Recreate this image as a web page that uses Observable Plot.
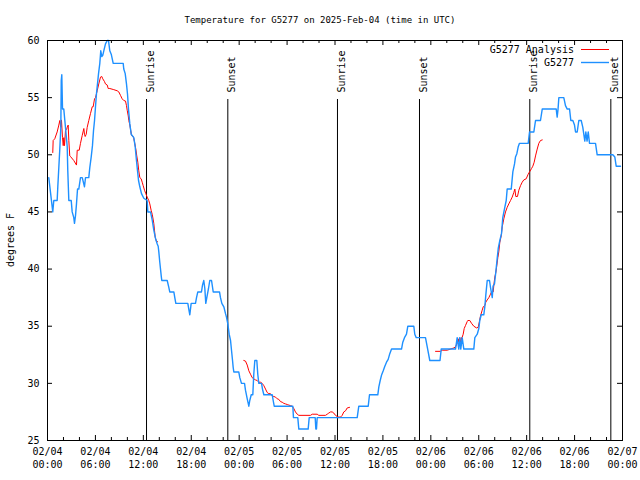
<!DOCTYPE html>
<html><head><meta charset="utf-8">
<script src="https://cdn.jsdelivr.net/npm/d3@7"></script>
<script src="https://cdn.jsdelivr.net/npm/@observablehq/plot@0.6"></script>
<style>body{margin:0;background:#fff}</style>
</head><body><div id="chart"></div>
<script>
// Hours since 2025-02-04 00:00 UTC, temperature in degrees F
const blueSeries = [[0.16,48],[0.66,45],[0.79,46],[1.21,46],[1.29,47.2],[1.54,50.5],[1.67,52.4],[1.72,56.5],[1.79,57],[1.88,54],[2.04,54],[2.17,53],[2.29,52.1],[2.47,50.7],[2.54,48.6],[2.67,46],[2.97,46],[3.09,45],[3.29,44.5],[3.38,44],[3.51,44.7],[3.63,45.7],[3.76,47],[3.92,47],[4.13,48],[4.35,48],[4.63,47.2],[4.76,48],[5.17,48],[5.30,48.9],[5.47,49.8],[5.63,50.8],[5.76,52.1],[5.89,53],[6.01,54.2],[6.14,55.4],[6.26,56.2],[6.39,57.1],[6.55,58],[6.67,59.1],[6.80,58.6],[6.92,58.7],[7.05,59.1],[7.26,59.7],[7.48,60],[7.64,60],[7.80,59.1],[7.98,58.8],[8.23,58],[9.48,58],[9.55,57.5],[9.73,57.1],[9.89,56.2],[10.02,55.3],[10.14,54],[10.31,52.7],[10.48,51.8],[10.81,51.5],[10.98,50.7],[11.14,49.5],[11.27,48.6],[11.40,47.75],[11.56,47.2],[11.77,46.6],[12.06,46.2],[12.48,46],[12.56,45],[12.90,45],[13.11,44.3],[13.31,43.4],[13.52,42.7],[13.74,42.2],[13.86,42],[13.94,41.5],[14.06,40.6],[14.24,39.4],[14.31,39],[14.99,39],[15.19,38.4],[15.31,38],[15.82,38],[15.94,37.5],[16.07,37],[17.57,37],[17.69,36.5],[17.82,36],[17.99,37],[18.53,37],[18.66,37.5],[18.82,38],[19.28,38],[19.41,38.6],[19.57,39],[19.70,38.3],[19.82,37],[20.00,37.7],[20.16,38.3],[20.32,39],[20.54,39],[20.75,38],[21.54,38],[21.66,37.5],[21.83,37],[22.08,36.7],[22.29,36.1],[22.41,35.8],[22.58,35.2],[22.75,34.3],[22.92,33.75],[23.04,32.9],[23.17,32],[23.25,31.4],[23.33,31],[23.95,31],[24.08,30.5],[24.29,30],[24.67,30],[24.79,29.4],[25.01,28.65],[25.21,28],[25.33,28.5],[25.51,29],[25.71,29],[25.83,30.8],[25.96,32],[26.21,32],[26.33,30.8],[26.46,30],[26.80,30],[26.92,29.5],[27.09,29],[28.14,29],[28.26,28.5],[28.39,28],[30.72,28],[30.80,27],[31.34,27],[31.47,26],[32.64,26],[32.77,27],[33.52,27],[33.60,26],[33.68,26],[33.77,27],[38.78,27],[38.98,28],[40.16,28],[40.32,29],[41.36,29],[41.49,29.7],[41.66,30.25],[41.82,30.7],[42.04,31.1],[42.24,31.5],[42.45,31.85],[42.66,32.1],[42.86,32.6],[43.08,33],[44.33,33],[44.49,33.6],[44.70,34],[44.95,34.3],[45.12,35],[45.87,35],[45.99,34.3],[46.17,34],[47.33,34],[47.55,33.2],[47.87,32],[49.15,32],[49.30,33],[51.09,33],[51.30,34],[51.50,33],[51.63,34],[51.75,33],[51.93,34],[52.13,33],[53.38,33],[53.51,34],[53.81,34.3],[54.01,34.8],[54.13,35.5],[54.31,36],[54.63,36],[54.76,36.7],[54.88,37.7],[55.06,39],[55.35,39],[55.47,38.4],[55.69,37.5],[55.79,38.5],[55.97,38.7],[56.10,39.5],[56.29,40.8],[56.44,41.8],[56.64,42.5],[56.85,43.1],[57.01,44.5],[57.26,45.4],[57.44,46],[57.56,47],[58.07,47],[58.27,48.5],[58.48,49.2],[58.60,49.8],[58.77,50.1],[58.94,50.7],[59.10,51],[60.19,51],[60.36,52],[60.90,52],[61.11,53],[61.73,53],[61.95,54],[63.70,54],[63.82,53.3],[63.93,54],[64.03,55],[64.65,55],[64.86,54.3],[65.08,54],[65.37,54],[65.53,53],[65.78,53],[65.99,52.6],[66.12,52],[66.33,52],[66.53,53],[66.83,53],[67.03,52.4],[67.28,51.2],[67.41,52],[67.56,51.2],[67.71,52],[67.87,51],[68.62,51],[68.83,50],[70.79,50],[71.04,49.8],[71.21,49],[71.75,49]];

const analysisPart1 = [[0.66,50.2],[0.71,51.25],[0.91,51.4],[1.21,52],[1.42,52.6],[1.54,53],[1.67,52.4],[1.75,53.05],[1.88,51.5],[1.97,50.8],[2.04,51.5],[2.13,50.8],[2.25,52.1],[2.38,52.2],[2.47,52.4],[2.59,52.6],[2.67,51.25],[2.79,49.9],[2.88,49.85],[3.29,49.5],[3.63,49.1],[3.72,50.4],[3.97,50.4],[4.13,51],[4.35,51.7],[4.55,52.3],[4.63,51.8],[4.72,51.6],[4.85,51.8],[4.97,52.4],[5.17,53],[5.38,53.6],[5.60,54.2],[5.72,54.2],[5.89,54.9],[6.01,55],[6.22,55.6],[6.42,56.2],[6.64,56.8],[6.80,56.85],[6.92,56.65],[7.14,56.4],[7.26,56.2],[7.48,56.1],[7.60,55.8],[7.80,55.8],[8.30,55.7],[8.73,55.6],[8.93,55.5],[9.14,55.2],[9.35,54.9],[9.55,54.75],[9.77,54.7],[9.89,54.3],[9.98,53.9],[10.11,53.4],[10.18,53],[10.31,52.6],[10.43,52.1],[10.52,51.7],[10.73,51.6],[10.81,51.4],[10.93,51],[11.06,50.5],[11.18,49.9],[11.31,49.35],[11.43,48.6],[11.56,48],[11.73,47.9],[11.86,47.6],[11.98,47.3],[12.15,46.9],[12.31,46.6],[12.48,46.3],[12.68,46],[12.81,45.7],[12.99,45.1],[13.11,44.8],[13.24,44.3],[13.31,44],[13.40,43.4],[13.48,42.8],[13.65,42.4],[13.77,42.4]];
const analysisPart2 = [[24.58,32],[24.79,31.95],[25.01,31.6],[25.21,31.1],[25.42,30.8],[25.63,30.5],[25.83,30.4],[26.05,30.3],[26.26,30.25],[26.46,30.1],[26.67,30.1],[26.88,30],[27.09,29.8],[27.30,29.5],[27.51,29.2],[27.71,29.1],[27.92,29.1],[28.14,28.9],[28.34,28.85],[28.55,28.8],[28.76,28.65],[28.96,28.6],[29.18,28.4],[29.39,28.35],[29.59,28.25],[29.80,28.2],[30.02,28.15],[30.22,28.1],[30.43,28.05],[30.64,28],[30.84,27.8],[31.05,27.5],[31.27,27.3],[31.47,27.2],[32.93,27.2],[33.15,27.3],[33.77,27.3],[33.97,27.2],[34.81,27.2],[35.02,27.3],[35.22,27.4],[35.44,27.5],[35.65,27.5],[35.85,27.4],[36.06,27.2],[36.28,27.1],[36.48,27.05],[36.69,27.05],[36.90,27.2],[37.10,27.5],[37.32,27.6],[37.53,27.85],[37.82,27.9]];
const analysisPart3 = [[48.59,32.8],[49.21,32.8],[49.42,32.9],[50.05,32.9],[50.46,33],[50.88,33.1],[51.09,33.2],[51.30,33.5],[51.43,33.9],[51.50,33.6],[51.63,34],[51.75,33.5],[51.84,34],[51.93,34.05],[52.05,34.3],[52.18,34.8],[52.34,35.06],[52.55,35.4],[52.63,35.5],[52.88,35.5],[53.09,35.26],[53.38,35],[53.72,34.85],[53.93,34.9],[54.05,35.3],[54.22,35.9],[54.43,36.4],[54.56,36.7],[54.76,36.8],[54.88,37.1],[55.06,37.3],[55.26,37.5],[55.47,37.8],[55.60,38],[55.81,38],[55.89,38.6],[56.01,39.3],[56.14,39.7],[56.26,40.3],[56.39,41],[56.51,41.5],[56.64,42.35],[56.81,42.9],[56.94,43.7],[57.06,44.1],[57.14,44.4],[57.35,45],[57.56,45.4],[57.76,45.7],[57.98,46],[58.19,46.3],[58.39,46.7],[58.52,47],[58.64,46.35],[58.85,46.35],[59.02,46.9],[59.23,47.3],[59.44,47.6],[59.64,47.8],[59.94,47.9],[60.19,48.3],[60.36,48.5],[60.61,48.8],[60.77,49],[60.94,49.35],[61.11,49.9],[61.32,50.5],[61.52,51],[61.73,51.25],[61.95,51.3]];

const sunHours = [12.40, 22.58, 36.31, 46.58, 60.39, 70.54];
const sunLabels = ["Sunrise","Sunset","Sunrise","Sunset","Sunrise","Sunset"];
const tickHours = [0,6,12,18,24,30,36,42,48,54,60,66,72];
const tickDates = ["02/04","02/04","02/04","02/04","02/05","02/05","02/05","02/05","02/06","02/06","02/06","02/06","02/07"];
const tickTimes = ["00:00","06:00","12:00","18:00","00:00","06:00","12:00","18:00","00:00","06:00","12:00","18:00","00:00"];
const minorHours = [2,4,8,10,14,16,20,22,26,28,32,34,38,40,44,46,50,52,56,58,62,64,68,70];
const yTicks = [25,30,35,40,45,50,55,60];
const seriesNames = ["G5277 Analysis","G5277"];
const seriesColors = ["#ff0000","#1e90ff"];
const titleText = "Temperature for G5277 on 2025-Feb-04 (time in UTC)";
const yLabel = "degrees F";

const blueData = blueSeries.map(([h,t]) => ({h, t}));
const redData = [analysisPart1, analysisPart2, analysisPart3].flatMap((s, i) => s.map(([h,t]) => ({h, t, seg: i})));

const font = "'DejaVu Sans Mono', monospace";
const plot = Plot.plot({
  width: 640, height: 480,
  marginLeft: 47, marginRight: 18, marginTop: 40, marginBottom: 40,
  style: {fontFamily: font, fontSize: "10px", background: "#fff", color: "#000"},
  x: {domain: [0, 72], axis: null},
  y: {domain: [25, 60], axis: null},
  marks: [
    Plot.ruleX(sunHours, {insetTop: 59, stroke: "#000"}),
    Plot.text(sunHours, {x: d => d, text: (d, i) => sunLabels[i], frameAnchor: "top", dy: 52, rotate: -90, textAnchor: "start", fill: "#000"}),
    Plot.line(redData, {x: "h", y: "t", z: "seg", stroke: seriesColors[0], strokeWidth: 1}),
    Plot.line(blueData, {x: "h", y: "t", stroke: seriesColors[1], strokeWidth: 1.4}),
    Plot.frame({stroke: "#000"}),
    Plot.ruleX(tickHours, {insetTop: 395, stroke: "#000"}),
    Plot.ruleX(tickHours, {insetBottom: 395, stroke: "#000"}),
    Plot.ruleX(minorHours, {insetTop: 397, stroke: "#000"}),
    Plot.ruleX(minorHours, {insetBottom: 397, stroke: "#000"}),
    Plot.ruleY(yTicks, {insetRight: 570, stroke: "#000"}),
    Plot.ruleY(yTicks, {insetLeft: 570, stroke: "#000"}),
    Plot.axisY(yTicks, {tickSize: 0, tickPadding: 8, label: null, fill: "#000"}),
    Plot.text(tickHours, {x: d => d, text: (d, i) => tickDates[i], frameAnchor: "bottom", dy: 14.5, fill: "#000"}),
    Plot.text(tickHours, {x: d => d, text: (d, i) => tickTimes[i], frameAnchor: "bottom", dy: 27, fill: "#000"})
  ]
});

const svg = d3.select(plot);
svg.append("text").attr("x", 320).attr("y", 20).attr("text-anchor", "middle")
  .attr("dominant-baseline", "central").attr("font-size", 9).attr("fill", "#000").text(titleText);
svg.append("text").attr("transform", "translate(10.5,240) rotate(-90)").attr("text-anchor", "middle")
  .attr("dominant-baseline", "central").attr("fill", "#000").text(yLabel);
seriesNames.forEach((name, i) => {
  const yy = 49.5 + i * 13;
  svg.append("text").attr("x", 574).attr("y", yy).attr("text-anchor", "end")
    .attr("dominant-baseline", "central").attr("fill", "#000").text(name);
  svg.append("line").attr("x1", 581).attr("x2", 609).attr("y1", yy).attr("y2", yy)
    .attr("stroke", seriesColors[i]).attr("stroke-width", i ? 1.4 : 1);
});

document.getElementById("chart").append(plot);
</script>
</body></html>
